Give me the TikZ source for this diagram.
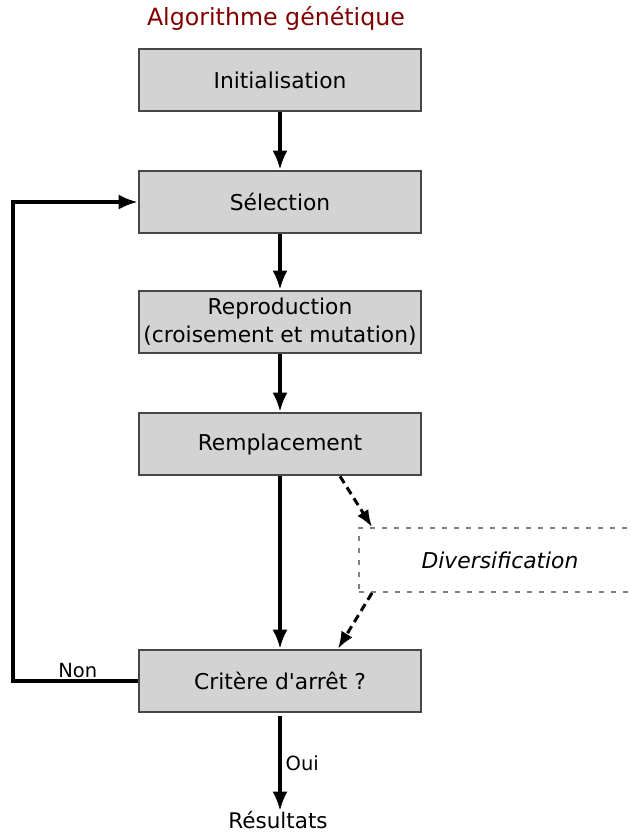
\documentclass[tikz,border=0pt]{standalone}
\usepackage{fontspec}
\setmainfont{DejaVu Sans}
\usetikzlibrary{arrows.meta}
\definecolor{titlered}{RGB}{128,0,0}
\definecolor{boxgray}{RGB}{211,211,211}
\begin{document}
\begin{tikzpicture}[
  x=1pt, y=-1pt,
  box/.style={
    draw=black!72, fill=boxgray, rectangle, line width=2.6pt,
    minimum width=282pt, minimum height=62pt,
    align=center, font=\fontsize{21.8}{28}\selectfont, inner sep=0pt
  },
  divbox/.style={
    draw=black!50, rectangle, line width=2pt, dash pattern=on 5pt off 7pt,
    minimum width=282pt, minimum height=64pt,
    font=\fontsize{21.8}{28}\selectfont\itshape, inner sep=0pt
  },
  lbl/.style={font=\fontsize{19.5}{22}\selectfont, inner sep=2pt},
  arr/.style={-{Latex[length=19pt,width=15pt]}, line width=3.4pt},
  darr/.style={-{Latex[length=17pt,width=13pt]}, line width=3pt,
    dash pattern=on 8pt off 5pt}
]
\clip (0,0) rectangle (631,833);

%% ── Title ────────────────────────────────────────────────────
\node[font=\fontsize{23.7}{28}\selectfont, text=titlered] (ttl) at (276,18)
  {Algorithme génétique};

%% ── Main column ──────────────────────────────────────────────
\node[box] (init) at (280, 80) {Initialisation};
\node[box] (sel)  at (280,202) {Sélection};
\node[box] (rep)  at (280,322) {Reproduction\\(croisement et mutation)};
\node[box] (rem)  at (280,444) {Remplacement};
\node[divbox] (div) at (500,560) {Diversification};
\node[box] (crit) at (280,681) {Critère d\textquotesingle arrêt ?};
\node[font=\fontsize{21.5}{26}\selectfont] (res) at (278,820) {Résultats};

\draw[arr] (init) -- (sel);
\draw[arr] (sel)  -- (rep);
\draw[arr] (rep)  -- (rem);
\draw[arr] (rem)  -- (crit);

%% ── Diversification detour (dashed) ──────────────────────────
\draw[darr] ([xshift=60pt]rem.south) -- ([xshift=14pt]div.north west);
\draw[darr] ([xshift=14pt]div.south west) -- ([xshift=58pt]crit.north);

%% ── Loop back and exit ───────────────────────────────────────
\draw[arr] (crit.west) -- node[lbl, above, pos=0.48] {Non} (13,681)
  |- (sel.west);
\draw[arr] ([yshift=-3pt]crit.south) -- node[lbl, right, xshift=2pt] {Oui}
  ([yshift=-3pt]crit.south |- res.north);

\end{tikzpicture}
\end{document}
